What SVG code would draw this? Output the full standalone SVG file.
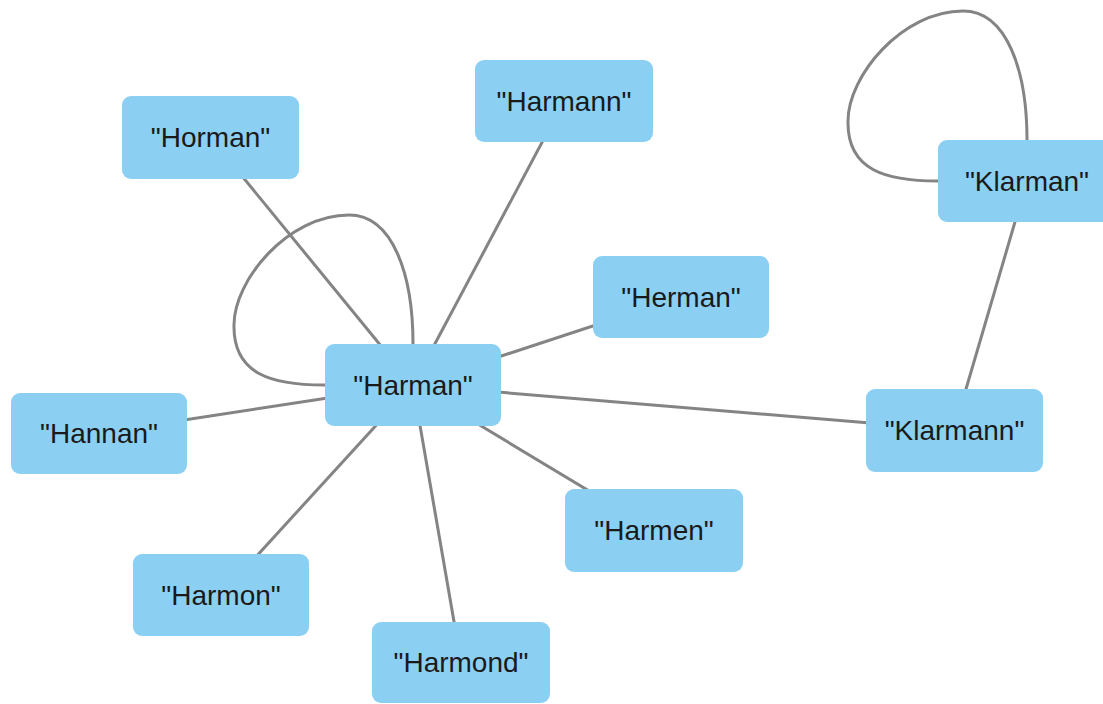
<svg xmlns="http://www.w3.org/2000/svg" width="1103" height="704" viewBox="0 0 1103 704">
<defs>
<style>
.edge{stroke:#848484;stroke-width:3;fill:none}
.box{fill:#8BD0F3}
.lbl{font-family:"Liberation Sans",Arial,sans-serif;font-size:28px;fill:#1a1a1a;text-anchor:middle}
</style>
<path id="loop" d="M 0,0 L -89,0 C -140,0 -180,-10 -179,-60 C -179,-105 -125,-170 -64,-170 C -20,-170 0,-110 0,-41 L 0,0"/>
</defs>
<g id="connectors">
<line class="edge" x1="413" y1="385" x2="210" y2="137"/>
<line class="edge" x1="413" y1="385" x2="564" y2="101"/>
<line class="edge" x1="413" y1="385" x2="681" y2="297"/>
<line class="edge" x1="413" y1="385" x2="99" y2="433"/>
<line class="edge" x1="413" y1="385" x2="221" y2="595"/>
<line class="edge" x1="413" y1="385" x2="461" y2="662"/>
<line class="edge" x1="413" y1="385" x2="654" y2="530"/>
<line class="edge" x1="413" y1="385" x2="954" y2="430"/>
<line class="edge" x1="954" y1="430" x2="1027" y2="181"/>
<use href="#loop" class="edge" transform="translate(413,385)"/>
<use href="#loop" class="edge" transform="translate(1027,181)"/>
</g>
<g id="n-horman"><rect class="box" x="122" y="96" width="177" height="83" rx="9"/><text class="lbl" x="210.5" y="147">"Horman"</text></g>
<g id="n-harmann"><rect class="box" x="475" y="60" width="178" height="82" rx="9"/><text class="lbl" x="564" y="111">"Harmann"</text></g>
<g id="n-herman"><rect class="box" x="593" y="256" width="176" height="82" rx="9"/><text class="lbl" x="681" y="307">"Herman"</text></g>
<g id="n-harman"><rect class="box" x="325" y="344" width="176" height="82" rx="9"/><text class="lbl" x="413" y="395">"Harman"</text></g>
<g id="n-hannan"><rect class="box" x="11" y="393" width="176" height="81" rx="9"/><text class="lbl" x="99" y="443">"Hannan"</text></g>
<g id="n-harmon"><rect class="box" x="133" y="554" width="176" height="82" rx="9"/><text class="lbl" x="221" y="605">"Harmon"</text></g>
<g id="n-harmond"><rect class="box" x="372" y="622" width="178" height="81" rx="9"/><text class="lbl" x="461" y="672">"Harmond"</text></g>
<g id="n-harmen"><rect class="box" x="565" y="489" width="178" height="83" rx="9"/><text class="lbl" x="654" y="540">"Harmen"</text></g>
<g id="n-klarmann"><rect class="box" x="866" y="389" width="177" height="83" rx="9"/><text class="lbl" x="954.5" y="440">"Klarmann"</text></g>
<g id="n-klarman"><rect class="box" x="938" y="140" width="178" height="82" rx="9"/><text class="lbl" x="1027" y="191">"Klarman"</text></g>
</svg>
